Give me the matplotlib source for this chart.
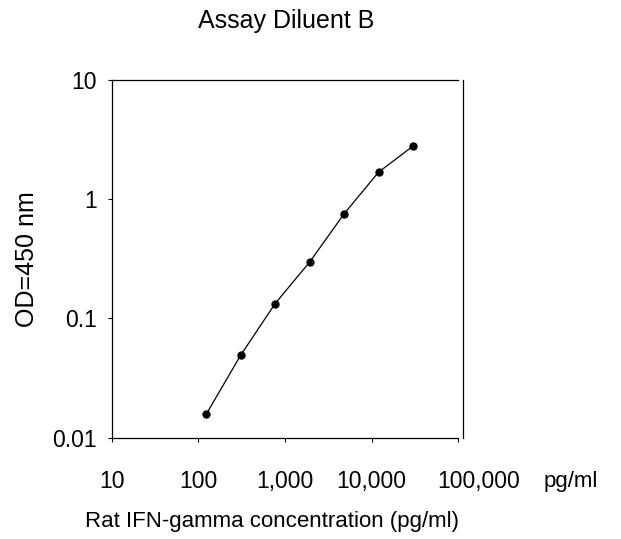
import matplotlib
matplotlib.use("Agg")
import matplotlib.pyplot as plt
import matplotlib.transforms as mtransforms
from matplotlib.ticker import FixedLocator, NullLocator

plt.rcParams['font.family'] = ['Liberation Sans', 'DejaVu Sans']

# standard curve, 2.5-fold dilutions
conc = [123, 307, 768, 1920, 4800, 12000, 30000]
od = [0.0157, 0.049, 0.133, 0.296, 0.751, 1.68, 2.78]

xticks = [10, 100, 1000, 10000, 100000]
xticklabels = ["10", "100", "1,000", "10,000", "100,000"]
yticks = [0.01, 0.1, 1, 10]
yticklabels = ["0.01", "0.1", "1", "10"]

fig = plt.figure(figsize=(6.21, 5.39), dpi=100)
ax = fig.add_axes([0.180, 0.188, 0.558, 0.664])

ax.plot(conc, od, color='black', lw=0.9, marker='o', ms=5, mfc='black', mec='black')

ax.set_xscale('log')
ax.set_yscale('log')
ax.set_xlim(10, 100000)
ax.set_ylim(0.01, 10)

ax.xaxis.set_major_locator(FixedLocator(xticks))
ax.xaxis.set_minor_locator(NullLocator())
ax.set_xticklabels(xticklabels)
ax.yaxis.set_major_locator(FixedLocator(yticks))
ax.yaxis.set_minor_locator(NullLocator())
ax.set_yticklabels(yticklabels)

ax.tick_params(axis='both', labelsize=16.5, direction='out', length=3, width=0.8)
ax.tick_params(axis='x', pad=20)
ax.tick_params(axis='y', pad=8)

# last x label sits a little right of its tick, as in the original
shift = mtransforms.ScaledTranslation(20 / 100, 0, fig.dpi_scale_trans)
last = ax.get_xticklabels()[-1]
last.set_transform(last.get_transform() + shift)

for s in ax.spines.values():
    s.set_linewidth(0.9)
ax.spines['right'].set_position(('outward', 3.3))

ax.set_ylabel("OD=450 nm", fontsize=18, labelpad=9)
fig.text(272 / 621, 1 - 522 / 539, "Rat IFN-gamma concentration (pg/ml)",
         ha='center', va='center', fontsize=16)
fig.text(571 / 621, 1 - 481 / 539, "pg/ml", ha='center', va='center', fontsize=16)
fig.text(286 / 621, 1 - 21 / 539, "Assay Diluent B", ha='center', va='center', fontsize=18)

fig.savefig("out.png", dpi=100)
